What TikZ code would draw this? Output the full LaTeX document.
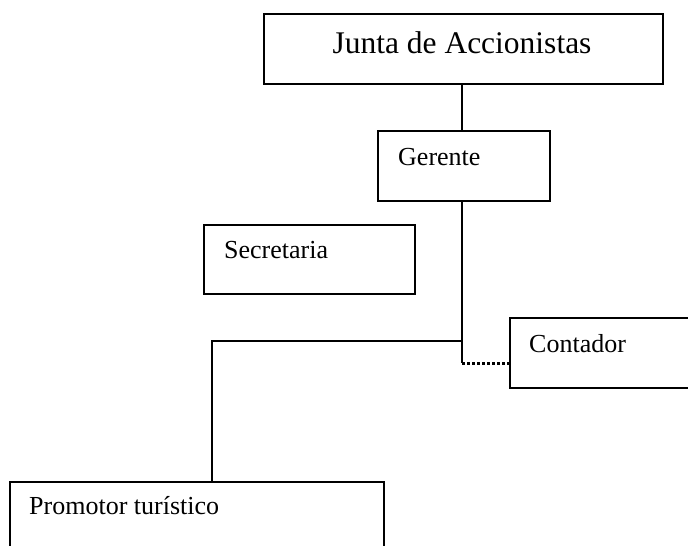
\documentclass[tikz,border=0pt]{standalone}
\usepackage{fontspec}
\setmainfont{Liberation Serif}
\begin{document}
\begin{tikzpicture}[x=1pt,y=-1pt,
  box/.style={draw, line width=1.8pt, rectangle, inner sep=0pt, anchor=north west},
  lbl/.style={anchor=base west, inner sep=0pt, font=\fontsize{26}{30}\selectfont},
  biglbl/.style={anchor=base, inner sep=0pt, font=\fontsize{31.5}{36}\selectfont},
  conn/.style={line width=1.8pt},
  dotline/.style={line width=3pt, dash pattern=on 3pt off 2pt}]
\useasboundingbox (0,0) rectangle (688,546);
\clip (0,0) rectangle (688,546);
% boxes
\node[box, minimum width=399pt, minimum height=70pt] (junta) at (263,13) {};
\node[box, minimum width=172pt, minimum height=70pt] (gerente) at (377,130) {};
\node[box, minimum width=211pt, minimum height=69pt] (secretaria) at (203,224) {};
\node[box, minimum width=220pt, minimum height=70pt] (contador) at (509,317) {};
\node[box, minimum width=374pt, minimum height=100pt] (promotor) at (9,481) {};
% labels
\node[biglbl] (tjunta) at (462,53) {Junta de Accionistas};
\node[lbl] (tgerente) at (398,165.5) {Gerente};
\node[lbl] (tsecretaria) at (224,258) {Secretaria};
\node[lbl] (tcontador) at (529,352) {Contador};
\node[lbl] (tpromotor) at (29,514) {Promotor turístico};
% connectors
\coordinate (split) at (462,341);
\coordinate (dotstart) at (462,363);
\coordinate (ptop) at (212,481);
\draw[conn] (junta.south -| dotstart) -- (gerente.north -| dotstart);
\draw[conn] (gerente.south -| dotstart) -- (dotstart);
\draw[conn] (split) -| (ptop);
\draw[dotline] (dotstart) -- (dotstart -| contador.west);
\end{tikzpicture}
\end{document}
